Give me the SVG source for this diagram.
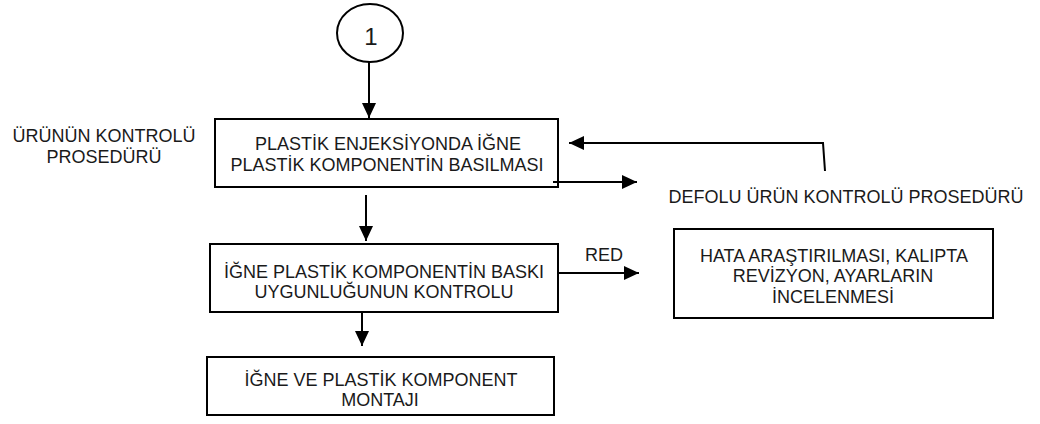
<svg xmlns="http://www.w3.org/2000/svg" width="1040" height="424" viewBox="0 0 1040 424">
<style>
.box{fill:#fff;stroke:#000;stroke-width:2}
.t{font-family:"Liberation Sans",Arial,sans-serif;font-size:18px;fill:#1a1a1a;text-anchor:middle}
.c{fill:none;stroke:#000;stroke-width:2}
</style>
<defs>
<marker id="ah" viewBox="0 0 15 14" refX="15" refY="7" markerWidth="15" markerHeight="14" markerUnits="userSpaceOnUse" orient="auto">
<path d="M0,0 L15,7 L0,14 Z" fill="#000"/>
</marker>
</defs>
<rect width="1040" height="424" fill="#fff"/>
<g id="start">
<ellipse cx="370" cy="33" rx="33" ry="29" class="box"/>
<text x="371" y="45" class="t" style="font-size:24px">1</text>
</g>
<g id="label-urun">
<text class="t" x="104" y="142">ÜRÜNÜN KONTROLÜ</text>
<text class="t" x="104" y="163">PROSEDÜRÜ</text>
</g>
<g id="box1">
<rect x="215" y="119" width="343" height="68" class="box"/>
<text class="t" x="388" y="150">PLASTİK ENJEKSİYONDA İĞNE</text>
<text class="t" x="387" y="171">PLASTİK KOMPONENTİN BASILMASI</text>
</g>
<g id="label-defolu">
<text class="t" x="846" y="203">DEFOLU ÜRÜN KONTROLÜ PROSEDÜRÜ</text>
</g>
<g id="box2">
<rect x="210" y="244" width="348" height="68" class="box"/>
<text class="t" x="384" y="278">İĞNE PLASTİK KOMPONENTİN BASKI</text>
<text class="t" x="384" y="298">UYGUNLUĞUNUN KONTROLU</text>
</g>
<g id="box3">
<rect x="674" y="229" width="319" height="89" class="box"/>
<text class="t" x="834" y="262">HATA ARAŞTIRILMASI, KALIPTA</text>
<text class="t" x="833" y="282">REVİZYON, AYARLARIN</text>
<text class="t" x="833" y="303">İNCELENMESİ</text>
</g>
<g id="box4">
<rect x="207" y="357" width="347" height="58" class="box"/>
<text class="t" x="381" y="386">İĞNE VE PLASTİK KOMPONENT</text>
<text class="t" x="380" y="406">MONTAJI</text>
</g>
<g id="connectors">
<line x1="369" y1="62" x2="369" y2="118" class="c" marker-end="url(#ah)"/>
<line x1="366" y1="195" x2="366" y2="241" class="c" marker-end="url(#ah)"/>
<line x1="362" y1="312" x2="362" y2="346" class="c" marker-end="url(#ah)"/>
<line x1="558" y1="273" x2="639" y2="273" class="c" marker-end="url(#ah)"/>
<line x1="553" y1="182" x2="637" y2="182" class="c" marker-end="url(#ah)"/>
<polyline points="825,171 823,143 569,143" class="c" marker-end="url(#ah)"/>
<text class="t" x="604" y="261">RED</text>
</g>
</svg>
